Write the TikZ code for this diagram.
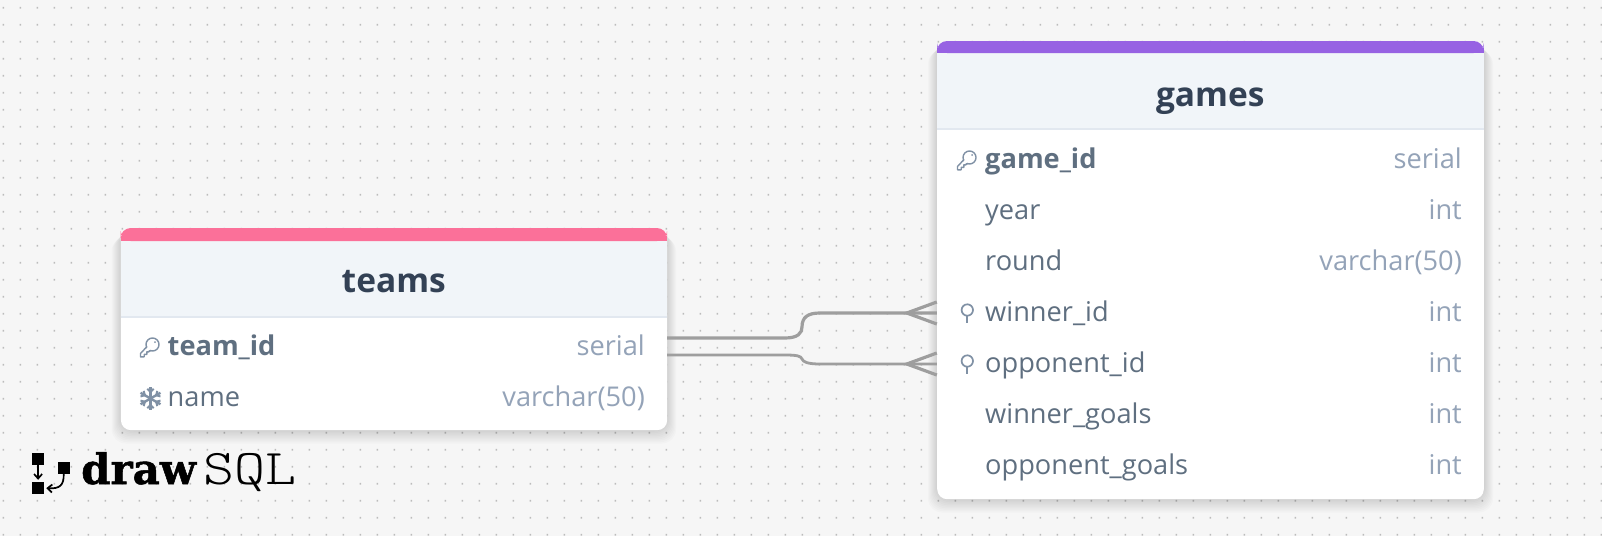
\documentclass[tikz,border=0pt]{standalone}
\usepackage{fontspec}
\setmainfont{Open Sans}
\newfontfamily\logofont[BoldFeatures={FakeBold=1.2}]{DejaVu Serif}
\usetikzlibrary{arrows.meta, positioning}

\definecolor{canvas}{HTML}{F6F6F6}
\definecolor{griddot}{HTML}{BCBCBC}
\definecolor{headfill}{HTML}{F1F5F9}
\definecolor{headline}{HTML}{E2E8F0}
\definecolor{titleink}{HTML}{334155}
\definecolor{fieldink}{HTML}{5F6F80}
\definecolor{typeink}{HTML}{94A3B8}
\definecolor{iconink}{HTML}{8091A5}
\definecolor{teamspink}{HTML}{FB7099}
\definecolor{gamespurple}{HTML}{9762E3}
\definecolor{relgray}{HTML}{9E9E9E}

\tikzset{
    cardbox/.style={anchor=north west, fill=white, rounded corners=10pt, inner sep=0pt},
    rowbox/.style={inner sep=0pt, minimum height=51pt},
    title/.style={anchor=base, text=titleink, font=\fontsize{33.5}{34}\selectfont\bfseries},
    field/.style={anchor=base west, inner sep=0pt, text=fieldink, font=\fontsize{27.2}{28}\selectfont},
    pkfield/.style={field, font=\fontsize{27.2}{28}\selectfont\bfseries},
    type/.style={anchor=base east, inner sep=0pt, text=typeink, font=\fontsize{27.2}{28}\selectfont},
    relline/.style={draw=relgray, line width=3.2pt},
    logosq/.style={fill=black, inner sep=0pt, minimum size=12pt},
    logoarrow/.style={-{Straight Barb[length=4.5pt, width=8pt]}, line width=1.7pt},
    keyicon/.pic={
        \draw[iconink, line width=1.4pt] (2.5,-2.5) circle (6.5);
        \fill[iconink] (5,-5) circle (1);
        \fill[white] (-1.5,1.5) circle (2);
        \draw[iconink, line width=1.4pt, line join=round]
            (-3,-0.5) -- (-9.5,6.5) -- (-9.5,9.8) -- (-5.8,9.8) -- (-5.8,7.3) -- (-3.2,7.3) -- (-3.2,4.8) -- (-1.2,4.8) -- (0.5,3.5);
    },
    fkicon/.pic={
        \draw[iconink, line width=1.7pt] (0,-3) circle (5.7);
        \draw[iconink, line width=2pt] (0,2.7) -- (0,10.2);
    },
    flakeicon/.pic={
        \foreach \a in {30,90,150,210,270,330} {
            \draw[iconink, line width=2.4pt] (0,0) -- (\a:11.5);
            \draw[iconink, line width=2pt] (\a:6.5) -- ++(\a+45:4.5);
            \draw[iconink, line width=2pt] (\a:6.5) -- ++(\a-45:4.5);
        }
    },
}

\begin{document}
\begin{tikzpicture}[x=1pt, y=-1pt]
    \useasboundingbox (0,0) rectangle (1602,536);
    \fill[canvas] (0,0) rectangle (1602,536);
    \fill[griddot] \foreach \i in {0,...,94} { \foreach \j in {0,...,31} {
        (3.3+17*\i-0.8, 7.7+17*\j-0.8) rectangle ++(1.6,1.6) } };

    % soft shadows
    \foreach \s in {1,...,9} {
        \fill[black, opacity=0.014, rounded corners=14pt]
            (120.7-\s,228+\s) rectangle (667+\s,430+1.5*\s);
        \fill[black, opacity=0.014, rounded corners=14pt]
            (937-\s,41+\s) rectangle (1484+\s,499+1.5*\s);
    }

    % teams
    \node[cardbox, minimum width=546.3pt, minimum height=202pt] (teams) at (120.7,228) {};
    \fill[headfill] (120.7,241) rectangle (667,317);
    \draw[headline, line width=1.2pt] (120.7,317) -- (667,317);
    \fill[teamspink, rounded corners=10pt] (120.7,241) -- (120.7,228) -- (667,228) -- (667,241) -- cycle;
    \fill[teamspink] (120.7,236) rectangle (667,241);
    \node[title] (teamstitle) at (393.8,292.5) {teams};
    \node[rowbox, minimum width=546.3pt] (teamid) at (393.8,346.5) {};
    \node[rowbox, minimum width=546.3pt] (teamname) at (393.8,397.5) {};
    \node[pkfield] (teamidlabel) at (167.5,355) {team\_id};
    \node[type] (teamidtype) at (645,355) {serial};
    \node[field] (teamnamelabel) at (167.5,406) {name};
    \node[type] (teamnametype) at (645,406) {varchar(50)};
    \pic at (150,347) {keyicon};
    \pic at (150.5,398.5) {flakeicon};

    % games
    \node[cardbox, minimum width=546.6pt, minimum height=458pt] (games) at (937,41) {};
    \fill[headfill] (937,53) rectangle (1483.6,129);
    \draw[headline, line width=1.2pt] (937,129) -- (1483.6,129);
    \fill[gamespurple, rounded corners=10pt] (937,53) -- (937,41) -- (1483.6,41) -- (1483.6,53) -- cycle;
    \fill[gamespurple] (937,48) rectangle (1483.6,53);
    \node[title] (gamestitle) at (1210.3,106) {games};
    \node[rowbox, minimum width=546.6pt] (winner) at (1210.3,313) {};
    \node[rowbox, minimum width=546.6pt] (opponent) at (1210.3,364) {};
    \node[pkfield] (gameidlabel) at (985,168) {game\_id};
    \node[type] (gameidtype) at (1462,168) {serial};
    \node[field] (yearlabel) at (985,219) {year};
    \node[type] (yeartype) at (1462,219) {int};
    \node[field] (roundlabel) at (985,270) {round};
    \node[type] (roundtype) at (1462,270) {varchar(50)};
    \node[field] (winnerlabel) at (985,321) {winner\_id};
    \node[type] (winnertype) at (1462,321) {int};
    \node[field] (opponentlabel) at (985,372) {opponent\_id};
    \node[type] (opponenttype) at (1462,372) {int};
    \node[field] (winnergoalslabel) at (985,423) {winner\_goals};
    \node[type] (winnergoalstype) at (1462,423) {int};
    \node[field] (opponentgoalslabel) at (985,474) {opponent\_goals};
    \node[type] (opponentgoalstype) at (1462,474) {int};
    \pic at (967,160) {keyicon};
    \pic at (967.3,313) {fkicon};
    \pic at (967.3,364) {fkicon};

    % relations
    \draw[relline] ([yshift=8.5pt]teamid.east) -- (785,338)
        .. controls (798,338) and (802,333) .. (802,327)
        .. controls (802,317) and (808,313) .. (820,313) -- (winner.west);
    \draw[relline] ([yshift=11pt]winner.west) -- ++(-30,11) -- ++(30,11);
    \draw[relline, line width=2.8pt] ([yshift=-8.5pt]teamid.east) -- (785,355)
        .. controls (797,355) and (801,356) .. (802,359)
        .. controls (803,362) and (808,364) .. (820,364) -- (opponent.west);
    \draw[relline] ([yshift=11pt]opponent.west) -- ++(-30,11) -- ++(30,11);

    % logo
    \node[logosq] (logotop) at (38.1,459.1) {};
    \node[logosq] (logoright) at (63.7,467.8) {};
    \node[logosq] (logobottom) at (38.1,488) {};
    \draw[logoarrow, shorten >=2pt] (logotop) -- (logobottom);
    \draw[logoarrow, shorten >=2pt] (logoright.south) .. controls (64,485) and (60,489) .. (logobottom.east);
    \node[anchor=base west, inner sep=0pt, font=\logofont\fontsize{42}{42}\selectfont\bfseries] (logodraw) at (81,484) {draw};
    \node[anchor=base west, inner sep=0pt, font=\fontsize{50}{50}\selectfont\ttfamily\fontseries{l}\selectfont] (logosql) at (203,484) {\scalebox{1.18}[1]{SQL}};
\end{tikzpicture}
\end{document}
